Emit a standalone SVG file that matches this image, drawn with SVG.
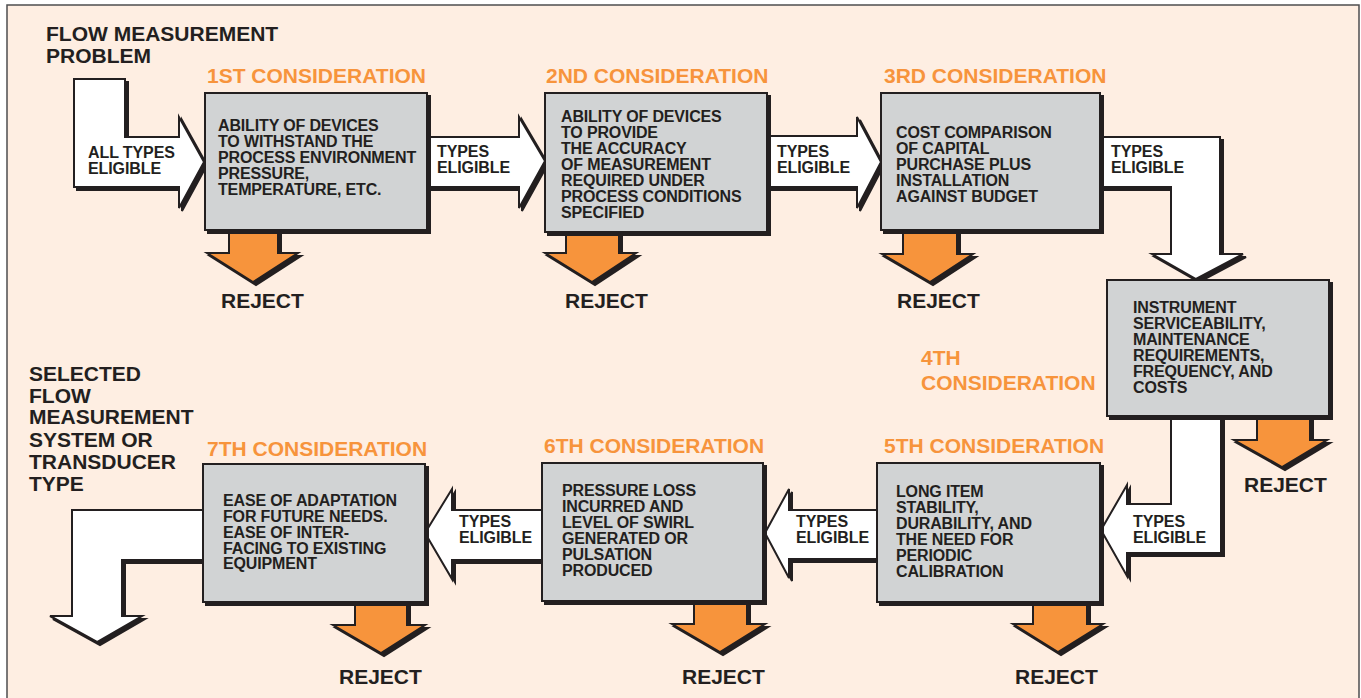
<svg xmlns="http://www.w3.org/2000/svg" width="1361" height="698" viewBox="0 0 1361 698">
<style>
text{font-family:"Liberation Sans",Arial,sans-serif;font-weight:bold;fill:#231F20}
.ttl{font-size:21px;fill:#F7943C}
.big{font-size:21px}
.body{font-size:16px;letter-spacing:-0.15px}
.lbl{font-size:16px;letter-spacing:-0.1px}
.box{fill:#D1D3D4;stroke:#231F20;stroke-width:2}
.shd{fill:#231F20;stroke:#231F20;stroke-width:2;stroke-linejoin:miter}
.wa{fill:#FFFFFF;stroke:#231F20;stroke-width:2;stroke-linejoin:miter}
.oa{fill:#F7943C;stroke:#231F20;stroke-width:2;stroke-linejoin:miter}
</style>
<rect x="0" y="0" width="1361" height="698" fill="#FFFFFF"/>
<rect x="7" y="5" width="1352" height="700" fill="#FEEEE2" stroke="#4D4D4F" stroke-width="1.5"/>

<g id="connectors">
  <path id="a0" d="M74,79 H125 V137 H179 V117 L204,162 L179,208 V187 H74 Z"/>
  <path id="a12" d="M427,137 H519 V117 L545,161 L519,208 V187 H427 Z"/>
  <path id="a23" d="M767,136 H857 V117 L881,162 L857,208 V187 H767 Z"/>
  <path id="a34" d="M1100,137 H1220 V254 H1243 L1196,279 L1152,254 H1171 V187 H1100 Z"/>
  <path id="a45" d="M1171,416 V504 H1127 V485 L1101,530 L1127,576 V553 H1221 V416 Z"/>
  <path id="a56" d="M877,510 H789 V489 L765,533 L789,578 V559 H877 Z"/>
  <path id="a67" d="M542,510 H452 V489 L425,533 L452,579 V560 H542 Z"/>
  <path id="a7" d="M203,510 H72 V616 H50 L97,642 L142,616 H122 V560 H203 Z"/>
  <path id="r1" d="M229,228 H278 V253 H298 L253,282 L207,253 H229 Z"/>
  <path id="r2" d="M566,230 H619 V253 H636 L592,282 L545,253 H566 Z"/>
  <path id="r3" d="M903,228 H957 V254 H973 L930,282 L882,254 H903 Z"/>
  <path id="r4" d="M1257,414 H1310 V440 H1327 L1282,467 L1234,440 H1257 Z"/>
  <path id="r5" d="M1033,600 H1087 V624 H1103 L1058,652 L1013,624 H1033 Z"/>
  <path id="r6" d="M694,599 H747 V624 H765 L720,652 L672,624 H694 Z"/>
  <path id="r7" d="M355,600 H407 V625 H425 L381,653 L333,625 H355 Z"/>
</g>
<g id="connector-shapes">
  <g transform="translate(3,3)" class="shd">
    <use href="#a0"/><use href="#a12"/><use href="#a23"/><use href="#a34"/><use href="#a45"/><use href="#a56"/><use href="#a67"/><use href="#a7"/>
    <use href="#r1"/><use href="#r2"/><use href="#r3"/><use href="#r4"/><use href="#r5"/><use href="#r6"/><use href="#r7"/>
  </g>
  <g class="wa">
    <use href="#a0"/><use href="#a12"/><use href="#a23"/><use href="#a34"/><use href="#a45"/><use href="#a56"/><use href="#a67"/><use href="#a7"/>
  </g>
  <g class="oa">
    <use href="#r1"/><use href="#r2"/><use href="#r3"/><use href="#r4"/><use href="#r5"/><use href="#r6"/><use href="#r7"/>
  </g>
  <g class="lbl">
    <text x="88" y="158">ALL TYPES</text><text x="88" y="174">ELIGIBLE</text>
    <text x="437" y="157">TYPES</text><text x="437" y="173">ELIGIBLE</text>
    <text x="777" y="157">TYPES</text><text x="777" y="173">ELIGIBLE</text>
    <text x="1111" y="157">TYPES</text><text x="1111" y="173">ELIGIBLE</text>
    <text x="1133" y="527">TYPES</text><text x="1133" y="543">ELIGIBLE</text>
    <text x="796" y="527">TYPES</text><text x="796" y="543">ELIGIBLE</text>
    <text x="459" y="527">TYPES</text><text x="459" y="543">ELIGIBLE</text>
  </g>
  <g class="big">
    <text x="221" y="308">REJECT</text>
    <text x="565" y="308">REJECT</text>
    <text x="897" y="308">REJECT</text>
    <text x="1244" y="492">REJECT</text>
    <text x="1015" y="684">REJECT</text>
    <text x="682" y="684">REJECT</text>
    <text x="339" y="684">REJECT</text>
  </g>
</g>

<g id="start">
  <text class="big" x="46" y="41">FLOW MEASUREMENT</text>
  <text class="big" x="46" y="63">PROBLEM</text>
</g>
<g id="end">
  <text class="big" x="29" y="381">SELECTED</text>
  <text class="big" x="29" y="403">FLOW</text>
  <text class="big" x="29" y="424">MEASUREMENT</text>
  <text class="big" x="29" y="447">SYSTEM OR</text>
  <text class="big" x="29" y="469">TRANSDUCER</text>
  <text class="big" x="29" y="491">TYPE</text>
</g>

<g id="c1">
  <text class="ttl" x="207" y="83">1ST CONSIDERATION</text>
  <rect class="shd" x="208" y="96" width="222" height="137"/>
  <rect class="box" x="205" y="93" width="222" height="137"/>
  <text class="body"><tspan x="218" y="131">ABILITY OF DEVICES</tspan><tspan x="218" y="147">TO WITHSTAND THE</tspan><tspan x="218" y="163">PROCESS ENVIRONMENT</tspan><tspan x="218" y="179">PRESSURE,</tspan><tspan x="218" y="195">TEMPERATURE, ETC.</tspan></text>
</g>
<g id="c2">
  <text class="ttl" x="546" y="83">2ND CONSIDERATION</text>
  <rect class="shd" x="548" y="96" width="222" height="139"/>
  <rect class="box" x="545" y="93" width="222" height="139"/>
  <text class="body"><tspan x="561" y="122">ABILITY OF DEVICES</tspan><tspan x="561" y="138">TO PROVIDE</tspan><tspan x="561" y="154">THE ACCURACY</tspan><tspan x="561" y="170">OF MEASUREMENT</tspan><tspan x="561" y="186">REQUIRED UNDER</tspan><tspan x="561" y="202">PROCESS CONDITIONS</tspan><tspan x="561" y="218">SPECIFIED</tspan></text>
</g>
<g id="c3">
  <text class="ttl" x="884" y="83">3RD CONSIDERATION</text>
  <rect class="shd" x="884" y="96" width="219" height="137"/>
  <rect class="box" x="881" y="93" width="219" height="137"/>
  <text class="body"><tspan x="896" y="138">COST COMPARISON</tspan><tspan x="896" y="154">OF CAPITAL</tspan><tspan x="896" y="170">PURCHASE PLUS</tspan><tspan x="896" y="186">INSTALLATION</tspan><tspan x="896" y="202">AGAINST BUDGET</tspan></text>
</g>
<g id="c4">
  <text class="ttl" x="921" y="365">4TH</text>
  <text class="ttl" x="921" y="390">CONSIDERATION</text>
  <rect class="shd" x="1110" y="283" width="222" height="136"/>
  <rect class="box" x="1107" y="280" width="222" height="136"/>
  <text class="body"><tspan x="1133" y="313">INSTRUMENT</tspan><tspan x="1133" y="329">SERVICEABILITY,</tspan><tspan x="1133" y="345">MAINTENANCE</tspan><tspan x="1133" y="361">REQUIREMENTS,</tspan><tspan x="1133" y="377">FREQUENCY, AND</tspan><tspan x="1133" y="393">COSTS</tspan></text>
</g>
<g id="c5">
  <text class="ttl" x="884" y="453">5TH CONSIDERATION</text>
  <rect class="shd" x="880" y="466" width="223" height="139"/>
  <rect class="box" x="877" y="463" width="223" height="139"/>
  <text class="body"><tspan x="896" y="497">LONG ITEM</tspan><tspan x="896" y="513">STABILITY,</tspan><tspan x="896" y="529">DURABILITY, AND</tspan><tspan x="896" y="545">THE NEED FOR</tspan><tspan x="896" y="561">PERIODIC</tspan><tspan x="896" y="577">CALIBRATION</tspan></text>
</g>
<g id="c6">
  <text class="ttl" x="544" y="453">6TH CONSIDERATION</text>
  <rect class="shd" x="545" y="466" width="221" height="138"/>
  <rect class="box" x="542" y="463" width="221" height="138"/>
  <text class="body"><tspan x="562" y="496">PRESSURE LOSS</tspan><tspan x="562" y="512">INCURRED AND</tspan><tspan x="562" y="528">LEVEL OF SWIRL</tspan><tspan x="562" y="544">GENERATED OR</tspan><tspan x="562" y="560">PULSATION</tspan><tspan x="562" y="576">PRODUCED</tspan></text>
</g>
<g id="c7">
  <text class="ttl" x="207" y="456">7TH CONSIDERATION</text>
  <rect class="shd" x="206" y="467" width="222" height="138"/>
  <rect class="box" x="203" y="464" width="222" height="138"/>
  <text class="body"><tspan x="223" y="506">EASE OF ADAPTATION</tspan><tspan x="223" y="522">FOR FUTURE NEEDS.</tspan><tspan x="223" y="538">EASE OF INTER-</tspan><tspan x="223" y="554">FACING TO EXISTING</tspan><tspan x="223" y="569">EQUIPMENT</tspan></text>
</g>
</svg>
